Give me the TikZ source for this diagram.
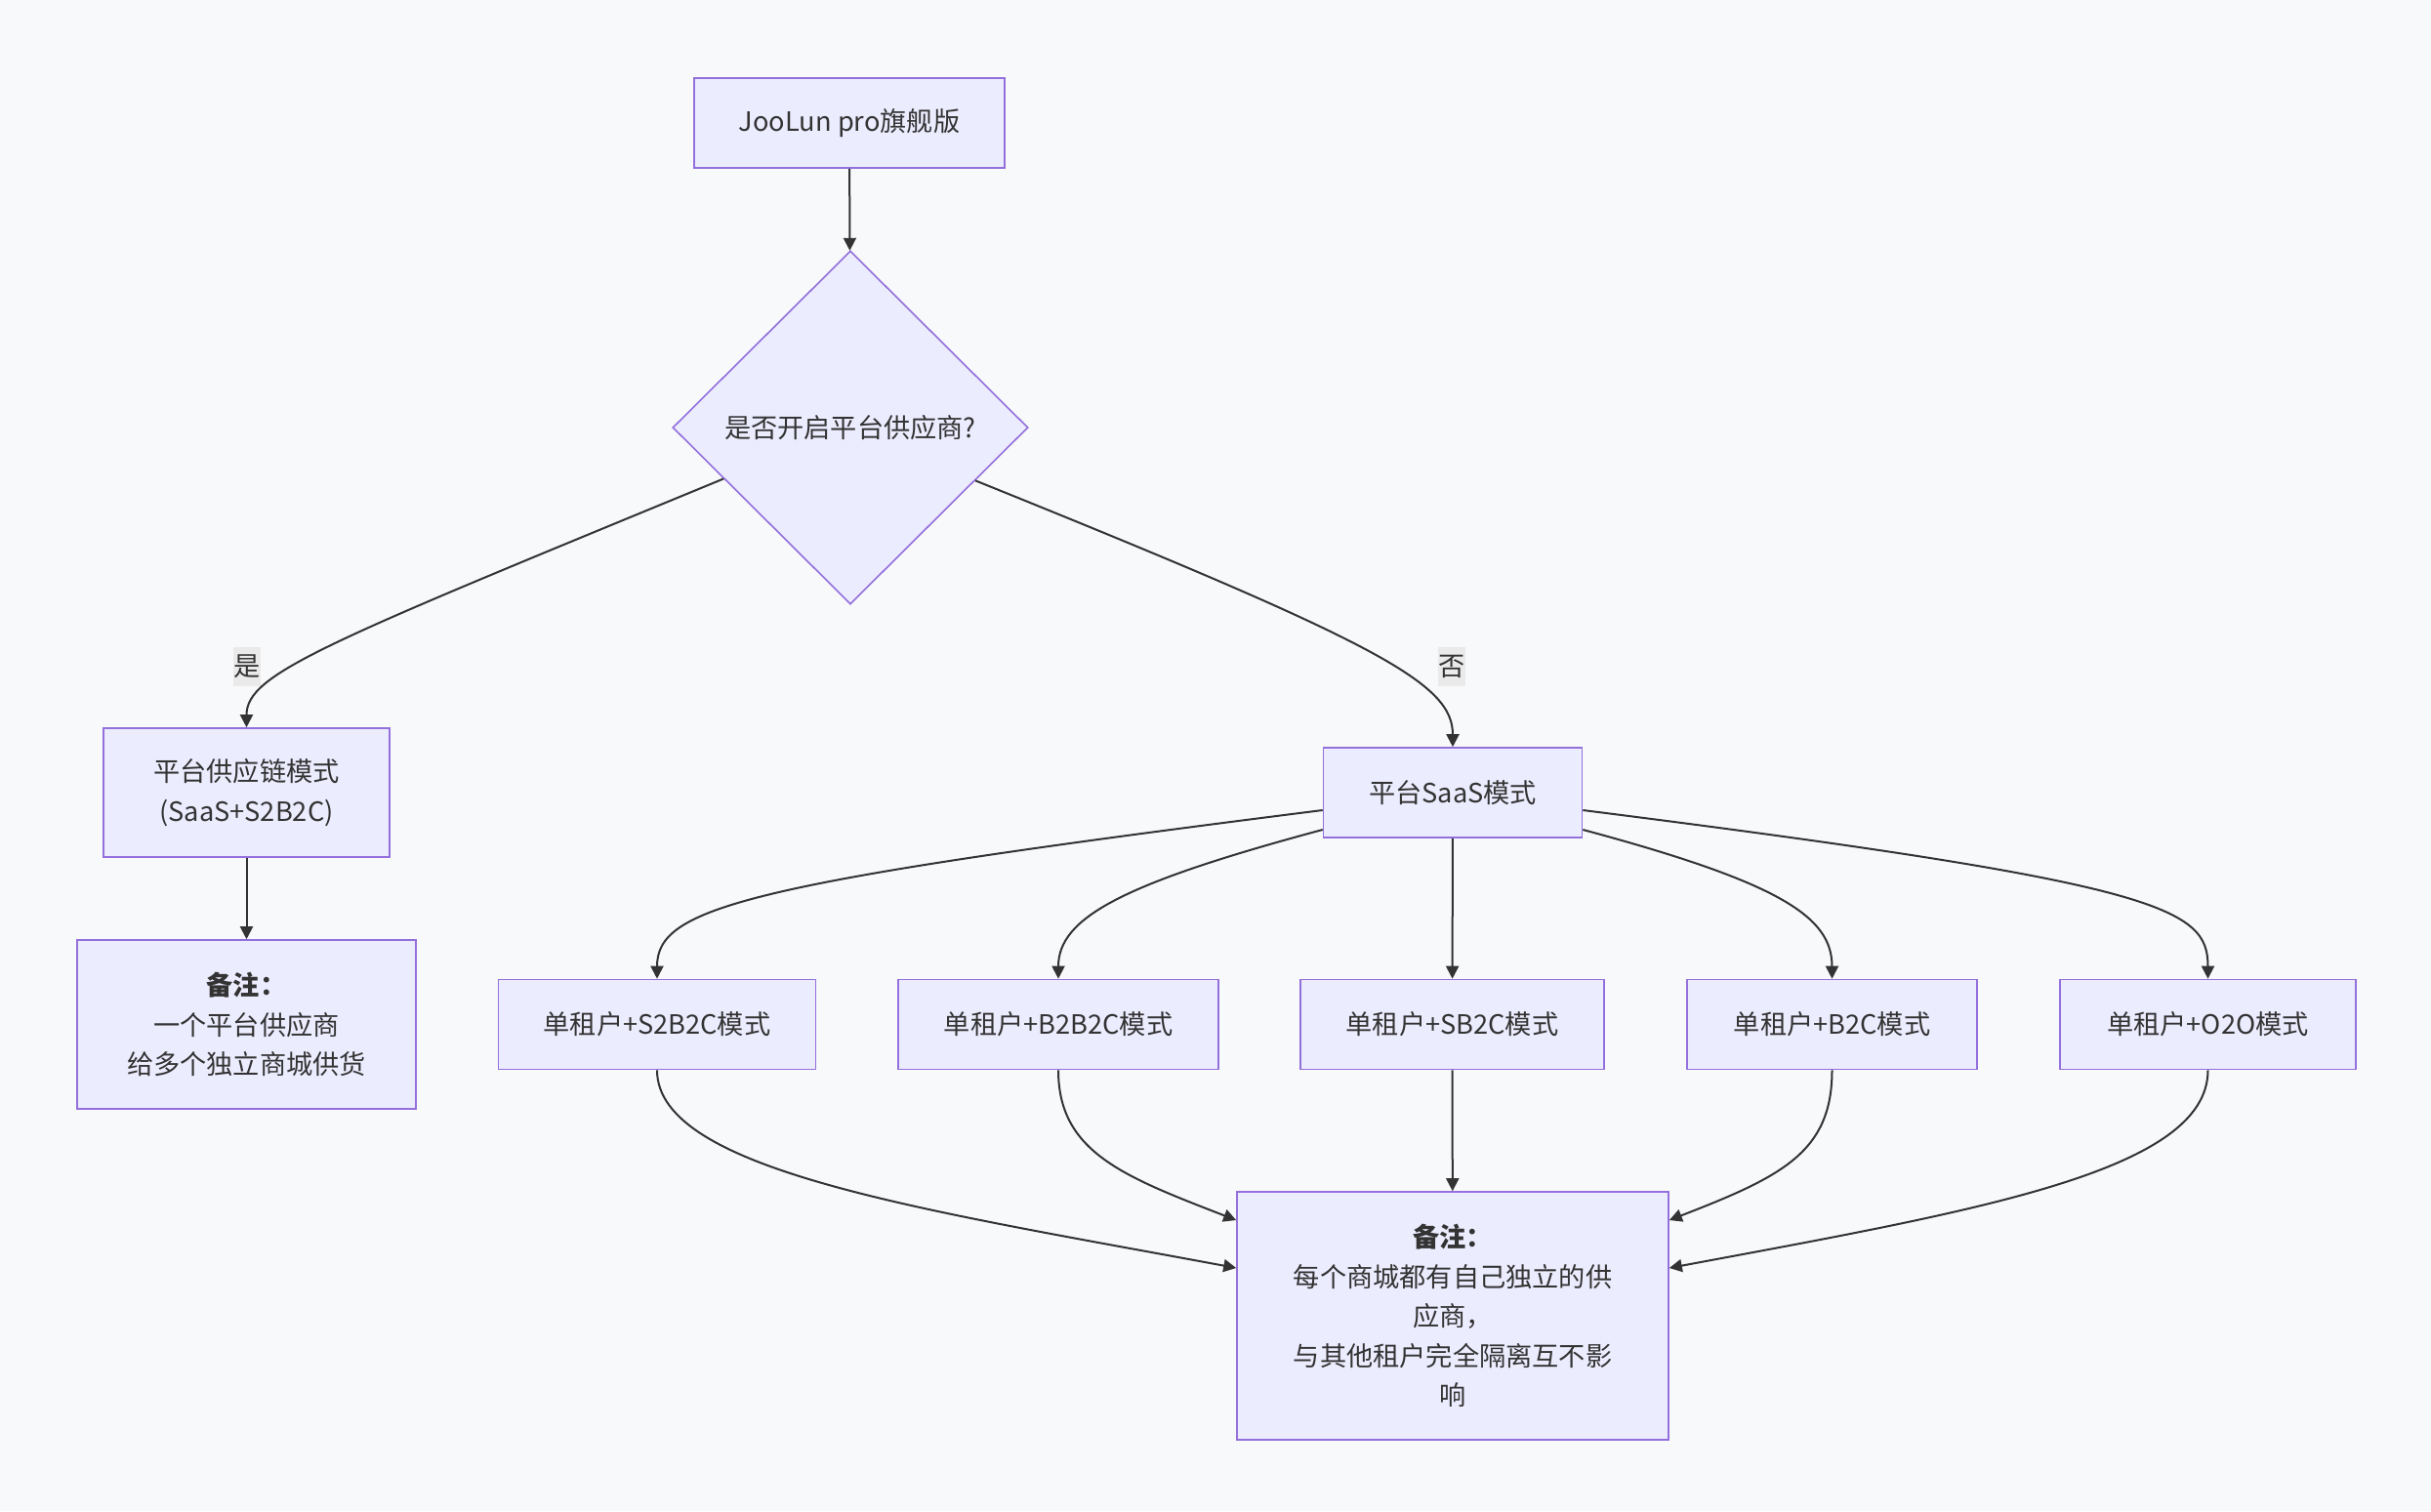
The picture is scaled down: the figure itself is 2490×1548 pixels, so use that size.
\documentclass[tikz,border=0pt]{standalone}
\usepackage{fontspec}
\setmainfont{Noto Sans CJK SC}
\usetikzlibrary{arrows.meta,shapes.geometric,calc}
\definecolor{bgc}{HTML}{F8F9FB}
\definecolor{boxline}{HTML}{9370DB}
\definecolor{boxfill}{HTML}{ECECFF}
\definecolor{edgec}{HTML}{333333}
\definecolor{lblbg}{HTML}{EAEAEA}
\begin{document}
\begin{tikzpicture}[x=1pt,y=-1pt,
  font=\fontsize{27.2}{40.5}\selectfont, text=edgec,
  box/.style={draw=boxline, fill=boxfill, line width=1.6pt, align=center, inner sep=0pt},
  edge/.style={draw=edgec, line width=2pt, -{Triangle[length=13pt,width=13pt]}},
  lbl/.style={fill=lblbg, inner sep=0pt, minimum width=28pt, minimum height=40pt}]
\fill[bgc] (0,0) rectangle (2490,1548);
\useasboundingbox (0,0) rectangle (2490,1548);

\node[box, minimum width=318pt, minimum height=92pt] (top) at (870,126) {JooLun pro旗舰版};
\node[box, diamond, minimum width=364pt, minimum height=362pt] (dec) at (871,438) {是否开启平台供应商?};
\node[box, minimum width=293pt, minimum height=132pt] (chain) at (252.5,812) {平台供应链模式\\(SaaS+S2B2C)};
\node[box, minimum width=347pt, minimum height=173pt] (note1) at (252.5,1049.5) {\textbf{备注：}\\一个平台供应商\\给多个独立商城供货};
\node[box, minimum width=265pt, minimum height=92pt] (saas) at (1488,812) {平台SaaS模式};
\node[box, minimum width=325pt, minimum height=92pt] (m1) at (673,1049.5) {单租户+S2B2C模式};
\node[box, minimum width=328pt, minimum height=92pt] (m2) at (1084,1049.5) {单租户+B2B2C模式};
\node[box, minimum width=311pt, minimum height=92pt] (m3) at (1487.5,1049.5) {单租户+SB2C模式};
\node[box, minimum width=297pt, minimum height=92pt] (m4) at (1876.5,1049.5) {单租户+B2C模式};
\node[box, minimum width=303pt, minimum height=92pt] (m5) at (2261.5,1049.5) {单租户+O2O模式};
\node[box, minimum width=442pt, minimum height=254pt] (note2) at (1488,1348) {\textbf{备注：}\\每个商城都有自己独立的供\\应商，\\与其他租户完全隔离互不影\\响};

\draw[edge] (top) -- (dec);
\draw[edge] (dec.202.3) .. controls (330,660) and (252.5,690) .. (chain.north);
\draw[edge] (dec.337.7) .. controls (1415,660) and (1488,700) .. (saas.north);
\node[lbl] (yes) at (253,683) {是};
\node[lbl] (no) at (1487,683) {否};
\draw[edge] (chain) -- (note1);

\draw[edge] ([yshift=-18pt]saas.west) .. controls (760,905) and (673,930) .. (m1.north);
\draw[edge] ([yshift=-38pt]saas.west) .. controls (1150,905) and (1084,940) .. (m2.north);
\draw[edge] (saas) -- (m3);
\draw[edge] ([yshift=-38pt]saas.east) .. controls (1826,905) and (1876.5,940) .. (m4.north);
\draw[edge] ([yshift=-18pt]saas.east) .. controls (2215,905) and (2261.5,930) .. (m5.north);

\draw[edge] (m1.south) .. controls (673,1200) and (950,1240) .. ([yshift=49pt]note2.west);
\draw[edge] (m2.south) .. controls (1084,1180) and (1150,1205) .. ([yshift=98pt]note2.west);
\draw[edge] (m3) -- (note2);
\draw[edge] (m4.south) .. controls (1876.5,1180) and (1826,1205) .. ([yshift=98pt]note2.east);
\draw[edge] (m5.south) .. controls (2261.5,1200) and (2026,1240) .. ([yshift=49pt]note2.east);
\end{tikzpicture}
\end{document}
